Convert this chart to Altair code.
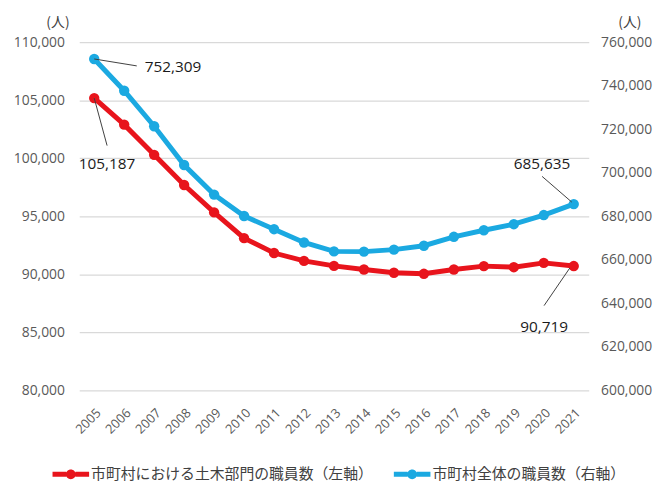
import altair as alt
import pandas as pd

years = list(range(2005, 2022))
civil = [105187, 102900, 100300, 97700, 95340, 93120, 91840, 91160, 90730,
         90420, 90140, 90050, 90420, 90710, 90620, 90990, 90719]
total = [752309, 737700, 721400, 703600, 690000, 680150, 674100, 668000, 663900,
         663800, 664700, 666500, 670600, 673600, 676400, 680600, 685635]
name_civil = "市町村における土木部門の職員数（左軸）"
name_total = "市町村全体の職員数（右軸）"
RED = "#E8141C"
BLUE = "#1BA9E1"
FONT = "Noto Sans CJK JP"
NUMFONT = "Open Sans"

df_c = pd.DataFrame({"year": [str(y) for y in years], "value": civil, "series": name_civil})
df_t = pd.DataFrame({"year": [str(y) for y in years], "value": total, "series": name_total})

x = alt.X("year:O", title=None, scale=alt.Scale(type="point", padding=0.5),
          axis=alt.Axis(labelAngle=-45, labelFontSize=13, labelColor="#595959",
                        ticks=False, domain=False, labelPadding=16, labelFont=NUMFONT))

color = alt.Color("series:N", title=None,
                  scale=alt.Scale(domain=[name_civil, name_total], range=[RED, BLUE]),
                  legend=alt.Legend(orient="none", legendX=-27, legendY=418,
                                    direction="horizontal",
                                    labelFontSize=15, labelColor="#404040", labelFont=FONT,
                                    labelLimit=500, columnPadding=20, labelOffset=2,
                                    symbolType="M-1,-0.135H-0.25V0.135H-1Z M0.25,-0.135H1V0.135H0.25Z M0.27,0A0.27,0.27 0 1 1 -0.27,0A0.27,0.27 0 1 1 0.27,0Z",
                                    symbolSize=1369, symbolStrokeWidth=0, symbolOpacity=1))

yl = alt.Y("value:Q", scale=alt.Scale(domain=[80000, 110000], nice=False, zero=False),
           axis=alt.Axis(title="(人)", titleAngle=0, titleX=-22, titleY=-20, titleAlign="center",
                         titleBaseline="middle", titleFontWeight="normal", titleFontSize=14,
                         titleFont=FONT, titleColor="#404040",
                         values=[80000, 85000, 90000, 95000, 100000, 105000, 110000],
                         format=",.0f", labelFontSize=14, labelColor="#595959", labelFont=NUMFONT,
                         ticks=False, domain=False, labelPadding=15, gridColor="#D9D9D9",
                         gridWidth=1.3, minExtent=67, maxExtent=67))
yr = alt.Y("value:Q", scale=alt.Scale(domain=[600000, 760000], nice=False, zero=False),
           axis=alt.Axis(title="(人)", orient="right", titleAngle=0, titleX=41, titleY=-20,
                         titleAlign="center", titleBaseline="middle", titleFontWeight="normal",
                         titleFontSize=14, titleFont=FONT, titleColor="#404040",
                         values=[600000, 620000, 640000, 660000, 680000, 700000, 720000, 740000, 760000],
                         format=",.0f", labelFontSize=14, labelColor="#595959", labelFont=NUMFONT,
                         ticks=False, domain=False, labelPadding=12, grid=False,
                         minExtent=62, maxExtent=62))

base_c = alt.Chart(df_c)
base_t = alt.Chart(df_t)

line_c = base_c.mark_line(strokeWidth=5, color=RED).encode(x=x, y=yl)
pt_c = base_c.mark_point(filled=True, size=110, opacity=1).encode(x=x, y=yl, color=color)
first_c = base_c.transform_filter(alt.datum.year == "2005")
last_c = base_c.transform_filter(alt.datum.year == "2021")
lead_c1 = first_c.mark_rule(color="#404040", strokeWidth=1, x2Offset=13, y2Offset=48).encode(
    x=x, y=yl, x2="year:O", y2="value:Q")
txt_c1 = first_c.mark_text(fontSize=15.5, font=NUMFONT, color="#1a1a1a", dx=13, dy=67).encode(
    x=x, y=yl, text=alt.Text("value:Q", format=",.0f"))
lead_c2 = last_c.mark_rule(color="#404040", strokeWidth=1, xOffset=-4, yOffset=2,
                           x2Offset=-30, y2Offset=40).encode(x=x, y=yl, x2="year:O", y2="value:Q")
txt_c2 = last_c.mark_text(fontSize=15.5, font=NUMFONT, color="#1a1a1a", dx=-30, dy=62).encode(
    x=x, y=yl, text=alt.Text("value:Q", format=",.0f"))

line_t = base_t.mark_line(strokeWidth=5, color=BLUE).encode(x=x, y=yr)
pt_t = base_t.mark_point(filled=True, size=110, opacity=1).encode(x=x, y=yr, color=color)
first_t = base_t.transform_filter(alt.datum.year == "2005")
last_t = base_t.transform_filter(alt.datum.year == "2021")
lead_t1 = first_t.mark_rule(color="#404040", strokeWidth=1, x2Offset=43, y2Offset=7).encode(
    x=x, y=yr, x2="year:O", y2="value:Q")
txt_t1 = first_t.mark_text(fontSize=15.5, font=NUMFONT, color="#1a1a1a", align="left", dx=51, dy=8).encode(
    x=x, y=yr, text=alt.Text("value:Q", format=",.0f"))
lead_t2 = last_t.mark_rule(color="#404040", strokeWidth=1, xOffset=-32, yOffset=-28,
                           x2Offset=-2, y2Offset=-2).encode(x=x, y=yr, x2="year:O", y2="value:Q")
txt_t2 = last_t.mark_text(fontSize=15.5, font=NUMFONT, color="#1a1a1a", dx=-32, dy=-40).encode(
    x=x, y=yr, text=alt.Text("value:Q", format=",.0f"))

left = alt.layer(line_c, pt_c, lead_c1, txt_c1, lead_c2, txt_c2)
right = alt.layer(line_t, pt_t, lead_t1, txt_t1, lead_t2, txt_t2)

chart = alt.layer(left, right).resolve_scale(y="independent").properties(
    width=515, height=352,
    padding={"left": 5, "top": 5, "right": 5, "bottom": 5},
).configure_view(stroke=None)

chart.save("out.html", embed_options={"renderer": "svg", "actions": False})
